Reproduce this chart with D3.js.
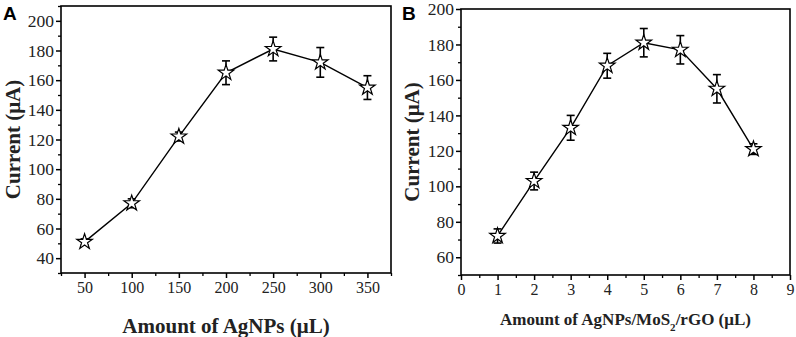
<!DOCTYPE html>
<html><head><meta charset="utf-8">
<script src="https://cdn.jsdelivr.net/npm/d3@7"></script>
<style>
html,body{margin:0;padding:0;background:#fff;}
svg{display:block;}
</style></head>
<body>
<svg id="chart" width="796" height="337"></svg>
<script>
// ---- data ----
const amountA = [50, 100, 150, 200, 250, 300, 350];
const currentA = [51, 77, 122, 165, 181, 172, 155];
const errorA = [2, 3, 3, 8, 8, 10, 8];
const xTicksA = [50, 100, 150, 200, 250, 300, 350];
const yTicksA = [40, 60, 80, 100, 120, 140, 160, 180, 200];

const amountB = [1, 2, 3, 4, 5, 6, 7, 8];
const currentB = [72, 103, 133, 168, 181, 177, 155, 121];
const errorB = [4, 5, 7, 7, 8, 8, 8, 3];
const xTicksB = [0, 1, 2, 3, 4, 5, 6, 7, 8, 9];
const yTicksB = [60, 80, 100, 120, 140, 160, 180, 200];

const svg = d3.select("#chart");
const serif = "'Liberation Serif','Times New Roman',serif";
const sans = "'Liberation Sans',Arial,sans-serif";

function panel(cfg) {
  const {left, right, top, bottom, xDomain, yDomain, xTicks, yTicks, xMinor, yMinor,
         xs, ys, es, letter, letterX, yTitleX, xTitleY, xTitleSize, xTitle} = cfg;
  const x = d3.scaleLinear().domain(xDomain).range([left, right]);
  const y = d3.scaleLinear().domain(yDomain).range([bottom, top]);
  const g = svg.append("g");

  // frame
  g.append("rect").attr("x", left).attr("y", top).attr("width", right - left).attr("height", bottom - top)
    .attr("fill", "none").attr("stroke", "#000").attr("stroke-width", 1.6);

  // axes
  const xAxis = d3.axisBottom(x).tickValues(xTicks).tickSize(5).tickPadding(4).tickFormat(d3.format("d"));
  const gx = g.append("g").attr("transform", `translate(0,${bottom})`).call(xAxis);
  gx.select(".domain").remove();
  gx.selectAll("line").attr("stroke-width", 1.5);
  gx.selectAll("text").attr("font-family", serif).attr("font-size", 16).attr("fill", "#222");
  const gxm = g.append("g").attr("transform", `translate(0,${bottom})`)
    .call(d3.axisBottom(x).tickValues(xMinor).tickSize(3).tickFormat(""));
  gxm.select(".domain").remove();
  gxm.selectAll("line").attr("stroke-width", 1.3);

  const yAxis = d3.axisLeft(y).tickValues(yTicks).tickSize(5).tickPadding(2).tickFormat(d3.format("d"));
  const gy = g.append("g").attr("transform", `translate(${left},0)`).call(yAxis);
  gy.select(".domain").remove();
  gy.selectAll("line").attr("stroke-width", 1.5);
  gy.selectAll("text").attr("font-family", serif).attr("font-size", 17.5).attr("fill", "#222");
  const gym = g.append("g").attr("transform", `translate(${left},0)`)
    .call(d3.axisLeft(y).tickValues(yMinor).tickSize(3).tickFormat(""));
  gym.select(".domain").remove();
  gym.selectAll("line").attr("stroke-width", 1.3);

  // line
  const pts = xs.map((v, i) => ({x: v, y: ys[i], e: es[i]}));
  g.append("path").datum(pts)
    .attr("d", d3.line().x(d => x(d.x)).y(d => y(d.y)))
    .attr("fill", "none").attr("stroke", "#000").attr("stroke-width", 1.4);

  // error bars
  const eb = g.append("g").attr("stroke", "#000").attr("stroke-width", 1.6);
  pts.forEach(d => {
    eb.append("line").attr("x1", x(d.x)).attr("x2", x(d.x)).attr("y1", y(d.y - d.e)).attr("y2", y(d.y + d.e));
    [d.y - d.e, d.y + d.e].forEach(v => {
      eb.append("line").attr("x1", x(d.x) - 4).attr("x2", x(d.x) + 4).attr("y1", y(v)).attr("y2", y(v));
    });
  });

  // star markers
  g.selectAll("path.star").data(pts).enter().append("path").attr("class", "star")
    .attr("d", d3.symbol().type(d3.symbolStar).size(75))
    .attr("transform", d => `translate(${x(d.x)},${y(d.y)})`)
    .attr("fill", "#fff").attr("stroke", "#000").attr("stroke-width", 1.2);

  // titles
  svg.append("text").attr("x", letterX).attr("y", 20).attr("font-family", sans).attr("font-weight", "bold")
    .attr("font-size", 19).text(letter);

  svg.append("text").attr("transform", `translate(${yTitleX},${(top + bottom) / 2}) rotate(-90)`)
    .attr("text-anchor", "middle").attr("font-family", serif).attr("font-weight", "bold")
    .attr("font-size", 21).attr("fill", "#222").text("Current (μA)");

  const t = svg.append("text").attr("x", (left + right) / 2).attr("y", xTitleY).attr("text-anchor", "middle")
    .attr("font-family", serif).attr("font-weight", "bold").attr("font-size", xTitleSize).attr("fill", "#222");
  xTitle.forEach(part => {
    const s = t.append("tspan").text(part.t);
    if (part.sub) s.attr("baseline-shift", "sub").attr("font-size", xTitleSize * 0.65);
  });
}

panel({
  left: 61, right: 391, top: 6, bottom: 273,
  xDomain: [25, 375], yDomain: [30, 210],
  xTicks: xTicksA, yTicks: yTicksA,
  xMinor: [25, 75, 125, 175, 225, 275, 325, 375], yMinor: [30, 50, 70, 90, 110, 130, 150, 170, 190, 210],
  xs: amountA, ys: currentA, es: errorA,
  letter: "A", letterX: 3, yTitleX: 20, xTitleY: 333, xTitleSize: 21,
  xTitle: [{t: "Amount of AgNPs (μL)"}]
});

panel({
  left: 461, right: 790, top: 9, bottom: 275,
  xDomain: [0, 9], yDomain: [50, 200],
  xTicks: xTicksB, yTicks: yTicksB,
  xMinor: [0.5, 1.5, 2.5, 3.5, 4.5, 5.5, 6.5, 7.5, 8.5], yMinor: [50, 70, 90, 110, 130, 150, 170, 190],
  xs: amountB, ys: currentB, es: errorB,
  letter: "B", letterX: 402, yTitleX: 419, xTitleY: 325, xTitleSize: 17,
  xTitle: [{t: "Amount of AgNPs/MoS"}, {t: "2", sub: true}, {t: "/rGO (μL)"}]
});
</script>
</body></html>
